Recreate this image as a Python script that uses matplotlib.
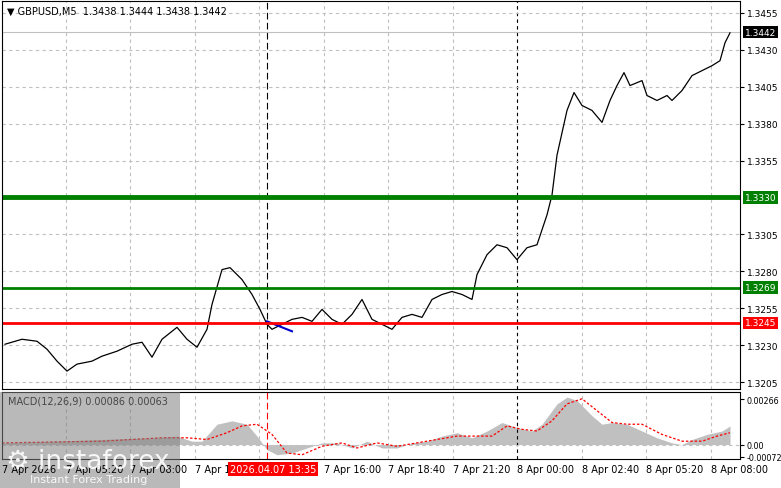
import matplotlib
matplotlib.use('Agg')
import matplotlib.pyplot as plt
from matplotlib.patches import Rectangle

W, H = 781, 489

# price path, x = bar position (pixels on chart), price
px = [3,20,35,45,55,65,75,90,100,115,130,140,150,160,175,185,195,205,210,220,228,240,250,258,265,270,
      280,290,300,310,320,330,340,350,360,370,380,390,400,410,420,430,440,450,460,470,475,485,495,505,
      515,525,535,545,550,555,565,572,580,590,600,608,615,622,628,640,645,655,665,670,680,690,700,710,718,723,728]
py = [345,340,342,350,362,372,365,362,357,352,345,343,358,340,328,340,348,330,305,270,268,280,295,310,325,330,
      325,320,318,322,310,320,325,315,300,320,325,330,318,315,318,300,295,292,295,300,275,255,245,248,
      260,248,245,215,195,155,110,92,105,110,122,100,85,72,85,80,95,100,95,100,90,75,70,65,60,42,32]
price = [1.3455 - (y - 12) / 14840 for y in py]

# MACD histogram and signal
hx = [0,100,150,175,190,200,215,230,245,255,265,275,290,305,320,335,350,365,380,395,410,425,440,455,470,
      485,500,515,530,540,555,565,575,590,600,610,625,640,655,670,680,690,705,720,728]
hist = [0.0001,0.0003,0.0004,0.0005,0.0002,0.0002,0.0012,0.0014,0.0012,0.0005,-0.0003,-0.0006,-0.0005,-0.0002,
        0.0001,0.0001,-0.0002,0.0002,-0.0002,-0.0002,0.0001,0.0002,0.0005,0.0007,0.0004,0.0008,0.0013,0.0010,
        0.0008,0.0012,0.0024,0.0028,0.0026,0.0017,0.0012,0.0013,0.0012,0.0008,0.0004,0.0001,0.0000,0.0003,
        0.0006,0.0008,0.0011]
sx = [0,100,160,185,205,225,240,255,270,285,300,320,340,355,375,395,415,435,455,470,490,505,520,535,550,
      565,580,595,610,625,640,660,680,700,715,728]
sig = [0.0001,0.0002,0.0004,0.0004,0.0003,0.0007,0.0011,0.0012,0.0006,-0.0005,-0.0006,-0.0001,0.0001,-0.0002,
       0.0001,-0.0001,0.0001,0.0003,0.0005,0.0005,0.0005,0.0011,0.0009,0.0008,0.0014,0.0024,0.0027,0.0020,
       0.0013,0.0012,0.0012,0.0006,0.0002,0.0002,0.0005,0.0007]

price_ticks = [1.3205,1.3230,1.3255,1.3280,1.3305,1.3355,1.3380,1.3405,1.3430,1.3455]
grid_x = [0,64,128,193,257,322,386,451,515,580,644,709]
time_labels = ['7 Apr 2026','7 Apr 05:20','7 Apr 08:00','7 Apr 10:40','7 Apr 13:20','7 Apr 16:00',
               '7 Apr 18:40','7 Apr 21:20','8 Apr 00:00','8 Apr 02:40','8 Apr 05:20','8 Apr 08:00']
levels = [(1.3330, 3.5, '#008000'), (1.3269, 2, '#008000'), (1.3245, 2, '#ff0000')]

fig = plt.figure(figsize=(W / 100, H / 100), dpi=100)
ax = fig.add_axes([2 / W, 1 - 390 / H, 738 / W, 388 / H])
mx = fig.add_axes([2 / W, 1 - 460 / H, 738 / W, 67 / H])

ymin = 1.3455 - (390 - 12) / 14840
ymax = 1.3455 + 12 / 14840
for a in (ax, mx):
    a.set_xlim(0, 738)
    for g in grid_x:
        a.axvline(g, color='#c0c0c0', ls=(0, (3, 3)), lw=0.8)
    a.axvline(515, color='black', ls=(0, (3, 3)), lw=0.8)
    a.axvline(265, color='black' if a is ax else 'red', ls=(0, (6, 3)), lw=0.8)
    a.set_xticks([])
    a.yaxis.tick_right()
    a.tick_params(axis='y', labelsize=6.5, length=3, pad=2)
mx.tick_params(axis='y', labelsize=5.8, pad=1.5)

ax.set_ylim(ymin, ymax)
ax.set_yticks(price_ticks)
ax.set_yticklabels(['%.4f' % t for t in price_ticks])
for t in price_ticks:
    ax.axhline(t, color='#c0c0c0', ls=(0, (3, 3)), lw=0.8)
ax.axhline(1.3442, color='#c0c0c0', lw=0.8)
ax.plot(px, price, color='black', lw=0.9)
ax.plot([265, 290], [1.3455 - (322 - 12) / 14840, 1.3455 - (332 - 12) / 14840], color='#0000cc', lw=1.5)
for val, lw, c in levels:
    ax.axhline(val, color=c, lw=lw)
    ax.text(743, val, '%.4f' % val, fontsize=6.5, color='white', va='center', ha='left',
            bbox=dict(boxstyle='square,pad=0.2', fc=c, ec='none'), clip_on=False)
ax.text(743, 1.3442, '1.3442', fontsize=6.5, color='white', va='center', ha='left',
        bbox=dict(boxstyle='square,pad=0.2', fc='black', ec='none'), clip_on=False)
ax.text(5, ymax - 0.0003, '\u25bc GBPUSD,M5  1.3438 1.3444 1.3438 1.3442', fontsize=7, va='top')

mx.set_ylim(-0.00085, 0.0031)
mx.set_yticks([0.00266, 0.0, -0.00072])
mx.set_yticklabels(['0.00266', '0.00', '-0.00072'])
mx.axhline(0, color='#c0c0c0', ls=(0, (3, 3)), lw=0.8)
mx.fill_between(hx, 0, hist, color='#c0c0c0', lw=0)
mx.plot(sx, sig, color='red', ls=(0, (2, 1.5)), lw=0.9)
mx.text(6, 0.0029, 'MACD(12,26,9) 0.00086 0.00063', fontsize=7, va='top')

for g, lab in zip(grid_x, time_labels):
    fig.text((g + 2) / W, 1 - 470 / H, lab, fontsize=7, va='center', ha='left')
fig.text(230 / W, 1 - 470 / H, '2026.04.07 13:35', fontsize=7, color='white', va='center', ha='left',
         bbox=dict(boxstyle='square,pad=0.2', fc='#ff0000', ec='none'))

fig.patches.append(Rectangle((0, 0), 180 / W, 96 / H, transform=fig.transFigure,
                             fc='#808080', alpha=0.55, ec='none'))
fig.text(6 / W, 1 - 462 / H, '\u2699 instaforex', fontsize=19, color='white', alpha=0.9, va='center')
fig.text(30 / W, 1 - 480 / H, 'Instant Forex Trading', fontsize=8, color='white', alpha=0.9, va='center')

fig.savefig('out.png', dpi=100)
